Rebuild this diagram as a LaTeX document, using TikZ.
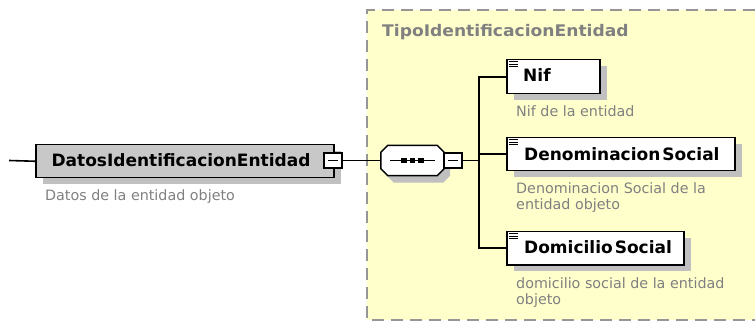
\documentclass[tikz,border=0pt]{standalone}
\usepackage{fontspec}
\setmainfont{DejaVu Sans}
\newfontfamily\titlefont[FakeStretch=1.07]{DejaVu Sans}
\usetikzlibrary{shadows}
\definecolor{panelyellow}{RGB}{255,255,204}
\definecolor{panelborder}{RGB}{150,150,150}
\definecolor{elemgray}{RGB}{200,200,200}
\definecolor{shadowgray}{RGB}{192,192,192}
\definecolor{desctext}{RGB}{128,128,128}
\begin{document}
\begin{tikzpicture}[x=1pt,y=-1pt,
  boxshadow/.style={drop shadow={shadow xshift=7pt, shadow yshift=-6pt, fill=shadowgray, opacity=1}},
  elembox/.style={draw=black, line width=1.5pt, fill=white, minimum height=34pt, inner sep=0pt, anchor=north west, boxshadow},
  elemtext/.style={inner sep=0pt, font=\fontsize{17}{20}\selectfont\bfseries, text=black},
  desc/.style={inner sep=0pt, anchor=base west, align=left, text=desctext, font=\fontsize{14.3}{15.5}\selectfont},
  minusbox/.style={draw=black, line width=1.3pt, fill=white, minimum width=18pt, minimum height=15pt, inner sep=0pt},
  conn/.style={draw=black, line width=1.6pt},
  seqshape/.style={draw=black, line width=1.5pt, fill=white, drop shadow={shadow xshift=6pt, shadow yshift=-7pt, fill=shadowgray, opacity=1}}
]
\useasboundingbox (0,0) rectangle (755,323);
% panel
\fill[panelyellow] (367,10) rectangle (755,320);
\draw[panelborder, line width=1.5pt, dash pattern=on 12pt off 7pt] (755,10) -- (367,10) -- (367,320) -- (755,320);
\node[inner sep=0pt, anchor=base west, text=desctext, font=\titlefont\fontsize{16}{19}\selectfont\bfseries] (title) at (382,36.3) {TipoIdentificacionEntidad};

% main element
\node[elembox, fill=elemgray, minimum width=298pt, minimum height=33pt] (main) at (35,144) {};
\node[elemtext, anchor=base] (maintext) at (181,166.5) {DatosIdentificacionEntidad};
\node[minusbox] (mainminus) at (333,160.5) {};
\draw[line width=1.3pt] ([xshift=-5pt]mainminus.center) -- ([xshift=5pt]mainminus.center);
\node[desc] (maindesc) at (45,201) {Datos de la entidad objeto};

% sequence compositor
\node[minimum width=63pt, minimum height=30pt, inner sep=0pt] (seq) at (412.5,160.5) {};
\path[seqshape] ([xshift=7pt]seq.north west) -- ([xshift=-7pt]seq.north east) -- ([yshift=-7pt]seq.north east) -- ([yshift=7pt]seq.south east) -- ([xshift=-7pt]seq.south east) -- ([xshift=7pt]seq.south west) -- ([yshift=7pt]seq.south west) -- ([yshift=-7pt]seq.north west) -- cycle;
\draw[line width=1.3pt] ([xshift=-22.5pt]seq.center) -- ([xshift=22.5pt]seq.center);
\foreach \dx in {-8.5,0,8.5}
  \fill ([xshift=\dx pt]seq.center) +(-2.6,-2.6) rectangle +(2.6,2.6);
\node[minusbox] (seqminus) at (453,160.5) {};
\draw[line width=1.3pt] ([xshift=-5pt]seqminus.center) -- ([xshift=5pt]seqminus.center);

% child elements
\node[elembox, minimum width=93pt] (nif) at (506,59) {};
\node[elembox, minimum width=228pt, minimum height=33pt] (denom) at (506,137) {};
\node[elembox, minimum width=177pt, minimum height=33pt] (domic) at (506,231) {};
\foreach \n in {nif,denom,domic}
  \foreach \dy in {2.7,5,7.3}
    \draw[line width=0.8pt] ([shift={(3,\dy)}]\n.north west) -- ++(9,0);
\node[elemtext, anchor=base west] (niftext) at (523,81.7) {Nif};
\node[elemtext, anchor=base west] (denomtext) at (524,160.7) {Denominacion\kern2pt Social};
\node[elemtext, anchor=base west] (domictext) at (524,253.3) {Domicilio\kern2pt Social};
\node[desc] (nifdesc) at (516,116.7) {Nif de la entidad};
\node[desc] (denomdesc) at (516,209.5) {Denominacion Social de la\\entidad objeto};
\node[desc] (domicdesc) at (516,304) {domicilio social de la entidad\\objeto};

% connectors
\coordinate (start) at (9,160.5);
\coordinate (junc) at (479,160.5);
\draw[conn] (start) -- (main.west);
\draw[conn] (mainminus.east) -- (seq.west);
\draw[conn] (seqminus.east) -- (junc);
\draw[conn] (junc) |- (nif.west);
\draw[conn] (junc) |- (denom.west);
\draw[conn] (junc) |- (domic.west);
\end{tikzpicture}
\end{document}
